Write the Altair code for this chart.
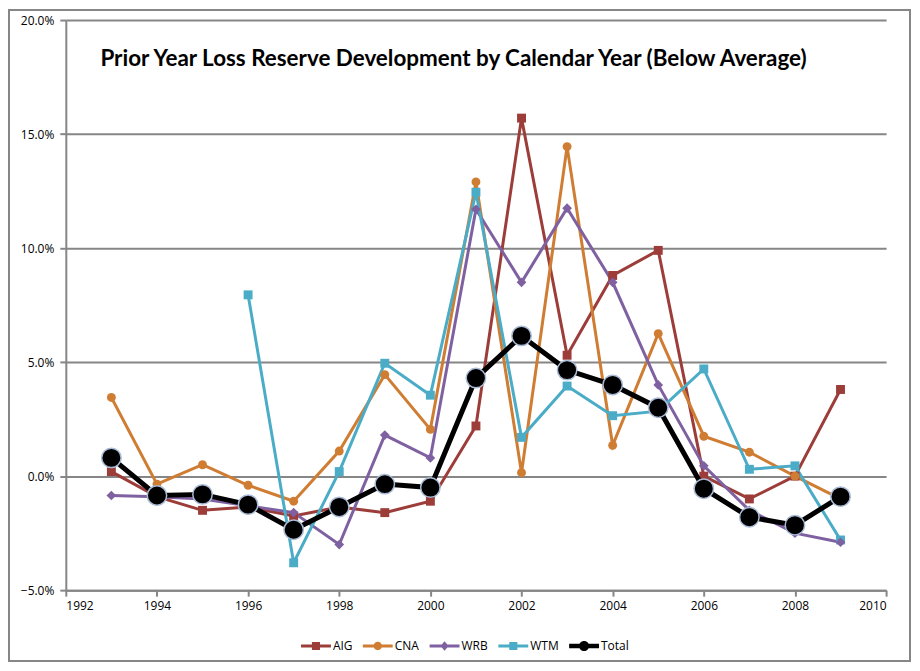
import altair as alt
import pandas as pd

years = list(range(1993, 2010))
series_names = ["AIG", "CNA", "WRB", "WTM", "Total"]
series_colors = ["#9C3D3A", "#D07D34", "#7F61A1", "#4AACC6", "#000000"]

aig = [0.2, -0.9, -1.5, -1.35, -1.75, -1.35, -1.6, -1.1, 2.2, 15.7, 5.3, 8.8, 9.9, 0.0, -1.0, 0.0, 3.8]
cna = [3.45, -0.35, 0.5, -0.4, -1.1, 1.1, 4.45, 2.05, 12.9, 0.15, 14.45, 1.35, 6.25, 1.75, 1.05, 0.0, -1.0]
wrb = [-0.85, -0.9, -1.0, -1.3, -1.6, -3.0, 1.8, 0.8, 11.7, 8.5, 11.75, 8.5, 4.0, 0.45, -1.5, -2.5, -2.9]
wtm = [None, None, None, 7.95, -3.8, 0.2, 4.95, 3.55, 12.45, 1.7, 3.95, 2.65, 2.85, 4.7, 0.3, 0.45, -2.8]
total = [0.8, -0.85, -0.8, -1.25, -2.35, -1.35, -0.35, -0.5, 4.3, 6.15, 4.65, 4.0, 3.0, -0.55, -1.8, -2.15, -0.9]

x_ticks = list(range(1992, 2011, 2))
y_ticks = [-0.05, 0.0, 0.05, 0.10, 0.15, 0.20]
title_text = "Prior Year Loss Reserve Development by Calendar Year (Below Average)"

rows = []
for name, vals in zip(series_names, [aig, cna, wrb, wtm, total]):
    for yr, v in zip(years, vals):
        if v is not None:
            rows.append({"year": yr, "value": v / 100.0, "series": name})
df = pd.DataFrame(rows)

GRAY = "#868686"
FONT = "Open Sans"

x_enc = alt.X("year:Q", scale=alt.Scale(domain=[1992, 2010], nice=False, zero=False),
              axis=alt.Axis(values=x_ticks, format="d", title=None, grid=False,
                            domainColor=GRAY, domainWidth=2, tickColor=GRAY, tickWidth=2,
                            tickSize=6, labelPadding=4, labelFontSize=12, labelFont=FONT,
                            labelColor="#000000"))
y_enc = alt.Y("value:Q", scale=alt.Scale(domain=[-0.05, 0.20], nice=False, zero=False),
              axis=alt.Axis(values=y_ticks, format=".1%", title=None, grid=True,
                            gridColor=GRAY, gridWidth=2, domainColor=GRAY, domainWidth=2,
                            tickColor=GRAY, tickWidth=2, tickSize=6, labelPadding=6,
                            labelFontSize=12, labelFont=FONT, labelColor="#000000"))

color_scale = alt.Scale(domain=series_names, range=series_colors)

base = alt.Chart(df)
others = base.transform_filter(alt.datum.series != "Total")

sq = "M-0.27,-0.27H0.27V0.27H-0.27Z"
line_p = "M-1,-0.1H1V0.1H-1Z"
circ = "M-0.28,0A0.28,0.28 0 1,1 0.28,0A0.28,0.28 0 1,1 -0.28,0Z"
diam = "M0,-0.32L0.27,0L0,0.32L-0.27,0Z"
tot_line = "M-1,-0.15H1V0.15H-1Z"
tot_circ = "M-0.34,0A0.34,0.34 0 1,1 0.34,0A0.34,0.34 0 1,1 -0.34,0Z"
legend_shapes = [line_p + sq, line_p + circ, line_p + diam, line_p + sq, tot_line + tot_circ]

legend_layer = base.transform_filter("false").mark_point(filled=True, opacity=1, strokeWidth=0).encode(
    x=x_enc, y=y_enc,
    color=alt.Color("series:N", scale=color_scale,
                    legend=alt.Legend(orient="none", legendX=236, legendY=613, direction="horizontal",
                                      columns=5, title=None, symbolSize=900, labelFontSize=12,
                                      labelFont=FONT, labelOffset=2, columnPadding=10,
                                      padding=0, labelColor="#000000", symbolStrokeWidth=0)),
    shape=alt.Shape("series:N", scale=alt.Scale(domain=series_names, range=legend_shapes)),
)

lines = others.mark_line(strokeWidth=3).encode(
    x="year:Q", y="value:Q",
    color=alt.Color("series:N", scale=color_scale),
    detail="series:N",
)

squares = base.transform_filter(
    (alt.datum.series == "AIG") | (alt.datum.series == "WTM")
).mark_square(size=80, opacity=1).encode(
    x="year:Q", y="value:Q",
    color=alt.Color("series:N", scale=color_scale),
)
circles = base.transform_filter(alt.datum.series == "CNA").mark_circle(size=80, opacity=1).encode(
    x="year:Q", y="value:Q",
    color=alt.Color("series:N", scale=color_scale),
)
diamonds = base.transform_filter(alt.datum.series == "WRB").mark_point(
    shape="diamond", size=95, filled=True, opacity=1
).encode(
    x="year:Q", y="value:Q",
    color=alt.Color("series:N", scale=color_scale),
)

tot = base.transform_filter(alt.datum.series == "Total")
total_line = tot.mark_line(strokeWidth=5, color="#000000").encode(x="year:Q", y="value:Q")
total_pts = tot.mark_circle(size=380, opacity=1, color="#000000", stroke="#A9BBD6",
                            strokeWidth=1.5).encode(x="year:Q", y="value:Q")

title_layer = alt.Chart(alt.Data(values=[{"t": title_text}])).mark_text(
    font="Lato", fontSize=22.5, fontWeight="bold", color="#000000", align="center", baseline="middle"
).encode(x=alt.value(389), y=alt.value(39), text="t:N")

border = alt.Chart(alt.Data(values=[{"a": 1}])).mark_rect(
    fill="transparent", stroke=GRAY, strokeWidth=2
).encode(x=alt.value(-57), x2=alt.value(847), y=alt.value(-10), y2=alt.value(643))

chart = alt.layer(
    legend_layer, border, lines, squares, circles, diamonds, total_line, total_pts, title_layer
).properties(
    width=823, height=572,
    autosize=alt.AutoSizeParams(type="none"),
    padding={"left": 58, "top": 11, "right": 26, "bottom": 72},
    background="white",
).configure_view(stroke=None)

chart.save("out.html", embed_options={"renderer": "svg", "actions": False})
